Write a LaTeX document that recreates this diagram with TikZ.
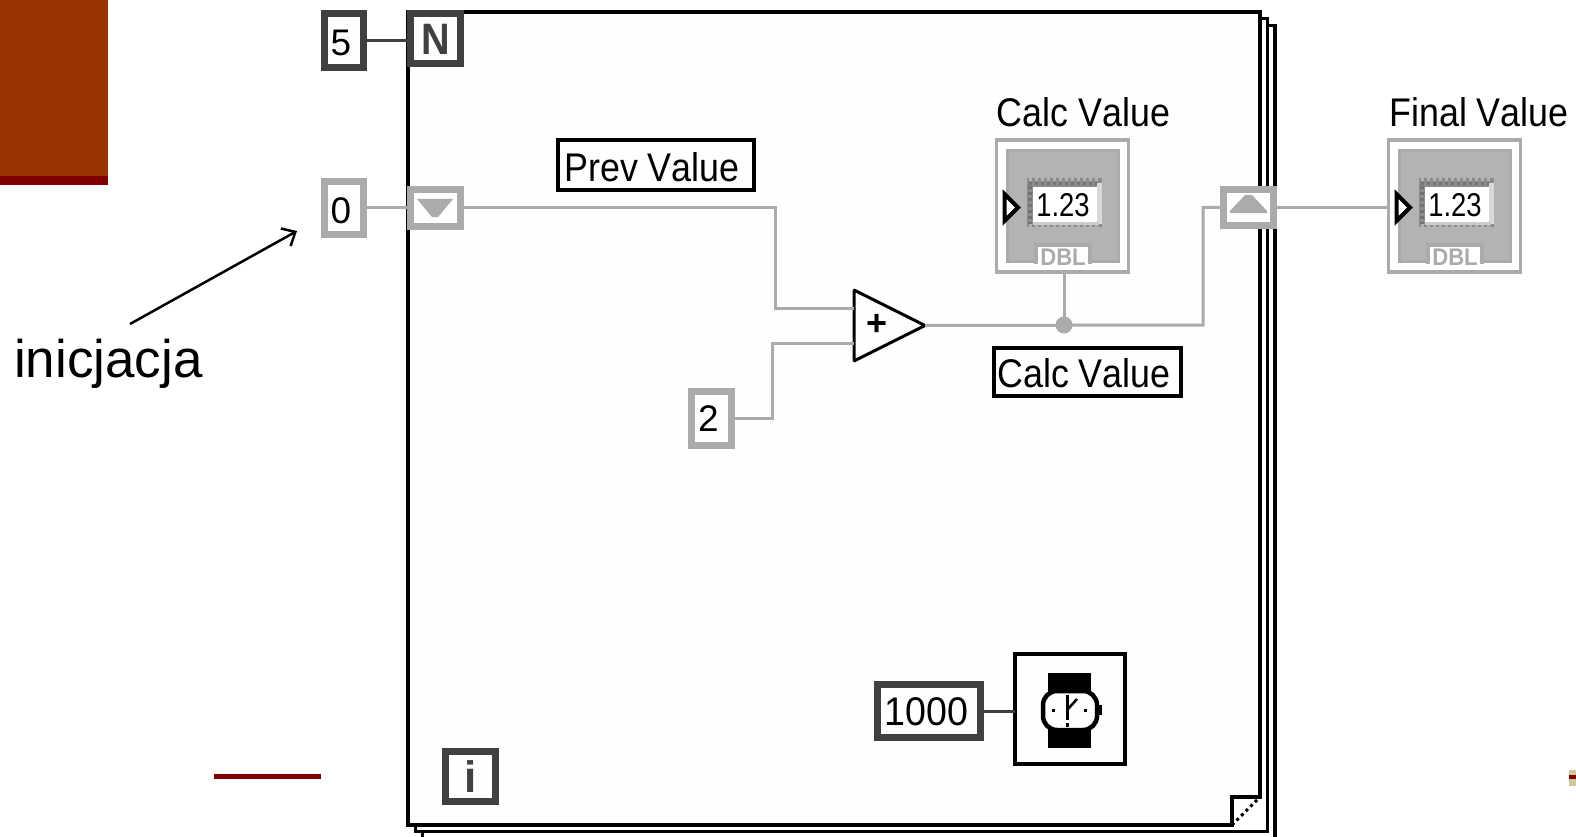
\documentclass[tikz,border=0pt]{standalone}
\usepackage{fontspec}
\setmainfont{Liberation Sans}
\usetikzlibrary{arrows.meta}
\definecolor{dk}{HTML}{404040}
\definecolor{gr}{HTML}{ABABAB}
\definecolor{grin}{HTML}{B3B3B3}
\definecolor{pap}{HTML}{FEFEFE}
\definecolor{brn}{HTML}{993300}
\definecolor{drd}{HTML}{800000}
\definecolor{kha}{HTML}{CBC89B}
\newcommand{\fs}[1]{\fontsize{#1}{#1}\selectfont}
\newcommand{\labtxt}[1]{\scalebox{.896}[1]{\fs{40}\addfontfeatures{Kerning=Off}#1}}
\newcommand{\nudge}[1]{\hspace*{#1}}
\tikzset{
  x=1pt,y=-1pt,
  frameline/.style={line width=3.6pt,draw=black,line cap=butt,line join=miter},
  darkbox/.style={draw=dk,line width=7pt,fill=pap,inner sep=0pt,outer sep=0pt,text depth=0pt},
  graybox/.style={draw=gr,line width=7pt,fill=pap,inner sep=0pt,outer sep=0pt,text depth=0pt},
  digit/.style={text height=#1},
  labelbox/.style={draw=black,line width=4pt,fill=pap,inner sep=0pt,outer sep=0pt,text depth=0pt},
  wiredark/.style={draw=dk,line width=3pt},
  wire/.style={draw=gr,line width=3pt,line join=miter},
  caption/.style={inner sep=0pt,outer sep=0pt,anchor=base},
}
\newcommand{\indicator}[2]{%
  \begin{scope}[xshift=#2pt]
    \node[draw=gr,line width=3.5pt,fill=white,inner sep=0pt,outer sep=0pt,minimum width=132pt,minimum height=132pt] (#1) at (1062.5,206) {};
    \fill[gr] (1006,149) rectangle (1120,263);
    \fill[grin] (1009,152) rectangle (1117,260);
    \fill[gr] (1034,243) rectangle (1092,264);
    \fill[white] (1038,247) rectangle (1088,267);
    \node[caption,text=gr] (#1dbl) at (1063,265.5) {\fs{24}\textbf{\scalebox{.92}[1]{DBL}}};
    \fill[gray!90] (1027,178) rectangle (1102,227);
    \draw[line width=3pt,draw=black!55,dash pattern=on 3pt off 3pt] (1029,184) -- (1100,184);
    \draw[line width=4pt,draw=black!55,dash pattern=on 3pt off 3pt] (1030,186) -- (1030,224);
    \draw[line width=3pt,draw=black!30,dash pattern=on 3pt off 3pt] (1029,179.5) -- (1100,179.5);
    \draw[line width=3pt,draw=black!30,dash pattern=on 3pt off 3pt] (1029,225.5) -- (1100,225.5);
    \draw[line width=5pt,draw=black!15] (1099.5,183) -- (1099.5,224);
    \draw[line width=4pt,draw=black!20] (1033,223) -- (1099,223);
    \node[fill=white,inner sep=0pt,outer sep=0pt,minimum width=64pt,minimum height=34pt] (#1disp) at (1065,204.5) {};
    \node[caption] (#1num) at (1063,217) {\scalebox{.83}[1]{\fs{33}1.23}};
    \draw[line width=4pt,draw=black,fill=white,line join=miter] (1004.5,194) -- (1018,207.5) -- (1004.5,221) -- cycle;
  \end{scope}%
}
\begin{document}
\begin{tikzpicture}
\useasboundingbox (0,0) rectangle (1576,837);
\fill[white] (0,0) rectangle (1576,837);
% slide decoration
\fill[brn] (0,0) rectangle (108,177);
\fill[drd] (0,176) rectangle (108,185);
\fill[drd] (214,774) rectangle (321,779);
\fill[kha] (1569,770) rectangle (1576,786);
\fill[drd] (1569,775) rectangle (1576,779);
% back frames of the stacked loop
\draw[frameline] (1260,18.5) -- (1267.5,18.5) -- (1267.5,831.5) -- (415.5,831.5) -- (415.5,825);
\draw[frameline] (1267.5,25.5) -- (1275,25.5) -- (1275,837);
\draw[frameline] (422.5,831.5) -- (422.5,837);
% front frame
\draw[frameline,fill=pap] (408,12) -- (1260,12) -- (1260,797) -- (1232,797) -- (1232,825) -- (408,825) -- cycle;
\fill[white] (1233.8,825) -- (1258.2,798.8) -- (1258.2,825) -- cycle;
\draw[line width=3pt,dash pattern=on 3pt off 3.5pt] (1232,825) -- (1260,797);
% terminals
\node[darkbox,digit=30pt,minimum width=39pt,minimum height=54pt] (five) at (344,40.5) {\nudge{-6pt}\fs{37}5};
\node[darkbox,digit=32pt,minimum width=50pt,minimum height=50pt,text=dk] (N) at (435.5,38.5) {\scalebox{.9}[1]{\fs{44}\textbf{N}}};
\node[graybox,digit=30pt,minimum width=39pt,minimum height=53pt] (zero) at (344,208) {\nudge{-6pt}\fs{37}0};
\node[graybox,minimum width=50pt,minimum height=36pt] (tunL) at (435.5,208) {};
\fill[gr] (417,199) -- (453,199) -- (438,217) -- (432,217) -- cycle;
\node[graybox,digit=26pt,minimum width=40pt,minimum height=54pt] (two) at (711.5,418.5) {\nudge{-6pt}\fs{37}2};
\node[graybox,minimum width=50pt,minimum height=36pt] (tunR) at (1248,207.5) {};
\fill[gr] (1230,213) -- (1267,213) -- (1267,211) -- (1252,195) -- (1245,195) -- (1230,211) -- cycle;
\node[labelbox,digit=34pt,minimum width=196pt,minimum height=50pt] (prev) at (656,165) {\nudge{-8pt}\labtxt{Prev Value}};
\node[labelbox,digit=31pt,minimum width=187pt,minimum height=48pt] (calc) at (1087.5,372) {\nudge{-7pt}\labtxt{Calc Value}};
\node[darkbox,digit=28pt,minimum width=103pt,minimum height=53pt] (k) at (929,711) {\nudge{-5pt}\scalebox{.94}[1]{\fs{40}1000}};
\node[draw=black,line width=4pt,fill=pap,inner sep=0pt,outer sep=0pt,minimum width=110pt,minimum height=110pt] (watch) at (1070,709) {};
\node[darkbox,digit=32pt,minimum width=50pt,minimum height=50pt,text=dk] (iter) at (470.5,776.5) {\fs{44}\textbf{i}};
% timer glyph
\fill (1048,673) rectangle (1091,692);
\fill (1048,729) rectangle (1091,748);
\fill (1098,705) rectangle (1102,715);
\draw[line width=4.5pt,fill=pap,rounded corners=14pt] (1043,691) rectangle (1097,730);
\fill (1052,709) rectangle (1055,712);
\fill (1084,709) rectangle (1087,712);
\fill (1066,695) rectangle (1069,720);
\fill (1066,723) rectangle (1069,727);
\draw[line width=2.5pt] (1068,709) -- (1077,699);
% adder
\node[inner sep=0pt,outer sep=0pt,minimum width=71pt,minimum height=71pt] (add) at (889.5,325.5) {};
\draw[line width=3pt,fill=pap,line join=bevel] (add.north west) -- (add.east) -- (add.south west) -- cycle;
\node[inner sep=0pt] (plus) at (877,325) {\fs{36}\textbf{+}};
% indicators
\indicator{cv}{0}
\indicator{fv}{392}
\node[caption] (cvlab) at (1083.5,127) {\labtxt{Calc Value}};
\node[caption] (fvlab) at (1479,127) {\labtxt{Final Value}};
% wires
\coordinate (b1) at (775,308);
\coordinate (b2) at (772,343);
\coordinate (b3) at (1203,325);
\coordinate (j0) at (1064,325);
\draw[wiredark] (five.east) -- (five.east -| N.west);
\draw[wiredark] (k.east) -- (k.east -| watch.west);
\draw[wire] (zero.east) -- (zero.east -| tunL.west);
\draw[wire] (tunL.east) -| (b1) -- (b1 -| add.west);
\draw[wire] (two.east) -| (b2) -- (b2 -| add.west);
\draw[wire] (add.east) -- (b3) |- (tunR.west);
\draw[wire] (j0) -- (j0 |- cv.south);
\draw[wire] (tunR.east) -- (tunR.east -| fv.west);
\node[fill=gr,circle,inner sep=0pt,minimum size=17pt] (junction) at (j0) {};
% annotation
\coordinate (ar0) at (130,324);
\coordinate (ar1) at (297,231);
\draw[line width=2.5pt,-{Straight Barb[length=11pt,width=20pt,line width=2.5pt]}] (ar0) -- (ar1);
\node[caption,anchor=base west] (ini) at (14,377) {\fs{53}inicjacja};
\end{tikzpicture}
\end{document}
